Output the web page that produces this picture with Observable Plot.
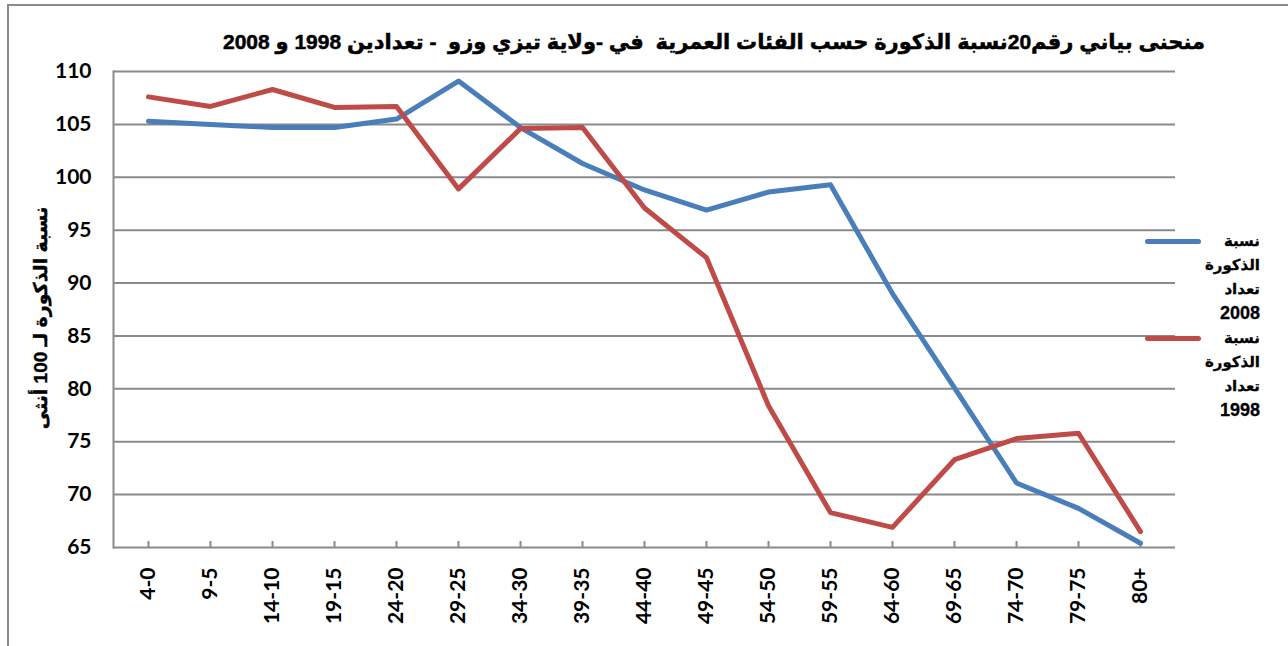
<!DOCTYPE html>
<html>
<head>
<meta charset="utf-8">
<script src="https://cdn.jsdelivr.net/npm/d3@7"></script>
<script src="https://cdn.jsdelivr.net/npm/@observablehq/plot@0.6"></script>
<style>
  html, body { margin: 0; padding: 0; background: #fff; }
  #wrap { position: relative; width: 1288px; height: 646px; overflow: hidden; }
  #frame { position: absolute; left: 7px; top: 4px; width: 1300px; height: 700px;
           border-left: 2px solid #8a8a8a; border-top: 2px solid #8a8a8a; box-sizing: border-box; }
  #title { position: relative; height: 60px; width: 1288px; }
  #title span { position: absolute; left: 0; right: 0; top: 30px; text-align: center; white-space: pre;
           font: bold 21px "Liberation Sans", "DejaVu Sans", sans-serif; direction: rtl; color: #000;
           padding-left: 140px; -webkit-text-stroke: 0.5px #000; }
  #ylabel { position: absolute; left: 40px; top: 318px; transform: translate(-50%, -50%) rotate(-90deg);
           white-space: nowrap; font: bold 19px "Liberation Sans", "DejaVu Sans", sans-serif; direction: rtl;
           -webkit-text-stroke: 0.4px #000; }
  .leg { position: absolute; left: 1145px; width: 115px; }
  .leg .sw { position: absolute; left: 0; width: 56px; height: 5px; border-radius: 3px; }
  .leg .tx { position: absolute; right: 0; direction: rtl; text-align: right;
             font: bold 15px "Liberation Sans", "DejaVu Sans", sans-serif; line-height: 24px;
             -webkit-text-stroke: 0.3px #000; }
  .leg .tx .yr { font-size: 18px; }
  svg { display: block; }
</style>
</head>
<body>
<div id="wrap">
  <div id="frame"></div>
  <div id="title"><span></span></div>
  <div id="chart"></div>
  <div id="ylabel"></div>
  <div id="legend"></div>
</div>
<script>
// ---- data ----
const titleText = "منحنى بياني رقم20نسبة الذكورة حسب الفئات العمرية  في -ولاية تيزي وزو  - تعدادين 1998 و 2008";
const yLabelText = "نسبة الذكورة لـ 100 أنثى";
const ageGroups = ["4-0","9-5","14-10","19-15","24-20","29-25","34-30","39-35","44-40","49-45","54-50","59-55","64-60","69-65","74-70","79-75","80+"];
const ratio2008 = [105.3,105.0,104.7,104.7,105.5,109.1,104.7,101.3,98.8,96.9,98.6,99.3,89.0,80.1,71.1,68.7,65.4];
const ratio1998 = [107.6,106.7,108.3,106.6,106.7,98.9,104.6,104.7,97.1,92.4,78.4,68.3,66.9,73.3,75.3,75.8,66.5];
const yTicks = [65,70,75,80,85,90,95,100,105,110];
const seriesNames = ["نسبة الذكورة تعداد 2008", "نسبة الذكورة تعداد 1998"];
const legendLines = [["نسبة","الذكورة","تعداد","2008"],["نسبة","الذكورة","تعداد","1998"]];
const colors = ["#4A7EBB", "#BE4B48"];

// ---- table ----
const rows = [];
ageGroups.forEach((g, i) => rows.push({age: g, value: ratio2008[i], series: seriesNames[0]}));
ageGroups.forEach((g, i) => rows.push({age: g, value: ratio1998[i], series: seriesNames[1]}));

document.querySelector("#title span").textContent = titleText;
document.getElementById("ylabel").textContent = yLabelText;

const numFont = "Lato, 'Liberation Sans', sans-serif";

const chart = Plot.plot({
  width: 1288,
  height: 586,
  marginLeft: 113,
  marginRight: 113,
  marginTop: 11,
  marginBottom: 99,
  style: {background: "transparent", overflow: "visible"},
  x: {type: "point", domain: ageGroups, padding: 0.5},
  y: {domain: [65, 110]},
  color: {domain: seriesNames, range: colors},
  marks: [
    Plot.ruleY(yTicks, {stroke: "#8a8a8a", strokeWidth: 2}),
    Plot.frame({anchor: "left", stroke: "#8a8a8a", strokeWidth: 2}),
    Plot.axisY({ticks: yTicks, tickSize: 0, tickPadding: 22, label: null,
                fontSize: 21, fontWeight: "bold", fontFamily: numFont, fill: "#000"}),
    Plot.axisX({tickSize: -6, tickFormat: () => "", label: null, stroke: "#8a8a8a", strokeWidth: 2}),
    Plot.axisX({tickSize: 0, tickPadding: 20, tickRotate: -90, label: null,
                fontSize: 21, fontWeight: "bold", fontFamily: numFont, fill: "#000"}),
    Plot.line(rows, {x: "age", y: "value", stroke: "series", z: "series",
                     strokeWidth: 5, strokeLinejoin: "round", strokeLinecap: "round"})
  ]
});
document.getElementById("chart").appendChild(chart);

// ---- legend ----
const legend = document.getElementById("legend");
const legTops = [229, 326];
legendLines.forEach((lines, i) => {
  const box = document.createElement("div");
  box.className = "leg";
  box.style.top = legTops[i] + "px";
  const sw = document.createElement("div");
  sw.className = "sw";
  sw.style.background = colors[i];
  sw.style.top = "10px";
  box.appendChild(sw);
  const tx = document.createElement("div");
  tx.className = "tx";
  tx.style.top = "0px";
  lines.forEach((l, j) => {
    const d = document.createElement("div");
    d.textContent = l;
    if (j === lines.length - 1) d.className = "yr";
    tx.appendChild(d);
  });
  box.appendChild(tx);
  legend.appendChild(box);
});
</script>
</body>
</html>
